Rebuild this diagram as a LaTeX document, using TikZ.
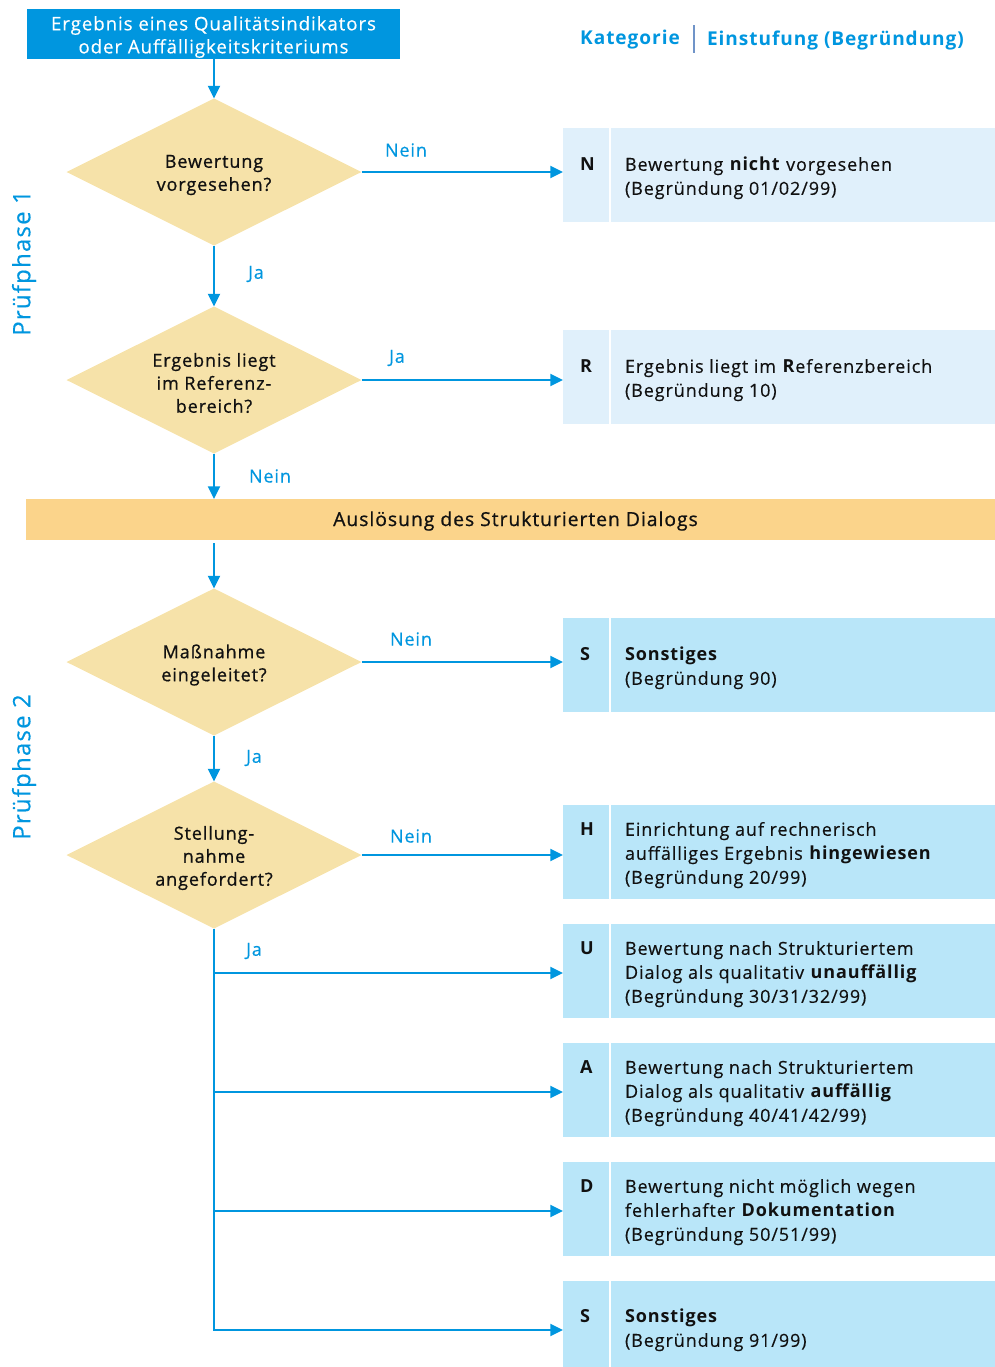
\documentclass[tikz,border=0pt]{standalone}
\usepackage{fontspec}
\setmainfont{Open Sans}[LetterSpace=5,UprightFeatures={FakeBold=0.3}]
\newfontfamily\medfont{Open Sans}[LetterSpace=5,FakeBold=0.8]
\usetikzlibrary{shapes.geometric,arrows.meta}
\definecolor{qblue}{HTML}{0096DF}
\definecolor{dfill}{HTML}{F6E2A9}
\definecolor{bfill}{HTML}{FBD48B}
\definecolor{lbox}{HTML}{E0F0FB}
\definecolor{mbox}{HTML}{B9E6F9}
\definecolor{sepc}{HTML}{7094C8}
\definecolor{ink}{HTML}{111111}
\newcommand{\boxtext}[3]{\begin{tabular}{@{}p{33.75pt}@{}l@{}}\textbf{#1} & #2\end{tabular}}
\begin{document}
\begin{tikzpicture}[x=0.75pt,y=-0.75pt,
  every node/.style={inner sep=0pt, outer sep=0pt},
  txt/.style={font=\fontsize{13.5pt}{18pt}\selectfont, text=ink},
  dec/.style={diamond, aspect=2, fill=dfill, minimum width=221.25pt, minimum height=110.25pt, inner sep=0pt},
  dectext/.style={align=center, font=\medfont\fontsize{13.5pt}{17.25pt}\selectfont, text=ink},
  catbox/.style={fill=#1, minimum width=324pt, minimum height=70.5pt, anchor=north west},
  arr/.style={draw=qblue, line width=1.5pt, -{Triangle[length=9.5pt,width=9pt]}},
  lbl/.style={text=qblue, font=\fontsize{13.5pt}{18pt}\selectfont},
  hdr/.style={text=qblue, font=\bfseries\fontsize{14.3pt}{18pt}\selectfont},
  phase/.style={text=qblue, rotate=90, font=\fontsize{18pt}{22pt}\selectfont},
  divider/.style={draw=white, line width=1.5pt}
  ]
\useasboundingbox (0,0) rectangle (995,1367);
\clip (0,0) rectangle (995,1367);

% start box
\node[fill=qblue, minimum width=279.75pt, minimum height=37.5pt] (start) at (213.5,34) {};
\node[align=center, text=white, font=\fontsize{14pt}{17.25pt}\selectfont] (startt) at (213.5,37)
  {Ergebnis eines Qualitätsindikators\\oder Auffälligkeitskriteriums};

% header
\node[hdr] (kat) at (630,40) {Kategorie};
\node[hdr] (einst) at (835.5,40) {Einstufung (Begründung)};
\draw[sepc, line width=1.2pt] (694,25) -- (694,53);

% phase labels
\node[phase] (p1) at (24,263) {Prüfphase 1};
\node[phase] (p2) at (24,767) {Prüfphase 2};

% diamonds
\node[dec] (d1) at (214,172) {};
\node[dec] (d2) at (214,380) {};
\node[dec] (d3) at (214,662) {};
\node[dec] (d4) at (214,855) {};
\node[dectext] (d1t) at (214,175) {Bewertung\\vorgesehen?};
\node[dectext] (d2t) at (214,383) {Ergebnis liegt\\im Referenz-\\bereich?};
\node[dectext] (d3t) at (214,665) {Maßnahme\\eingeleitet?};
\node[dectext] (d4t) at (214,858) {Stellung-\\nahme\\angefordert?};

% banner
\node[fill=bfill, minimum width=726.75pt, minimum height=30.75pt] (dialog) at (510.5,519.5) {};
\node[font=\medfont\fontsize{14.5pt}{18pt}\selectfont, text=ink] (dialogt) at (515.5,521)
  {Auslösung des Strukturierten Dialogs};

% category boxes
\node[catbox=lbox] (N) at (563,128) {};
\node[catbox=lbox] (R) at (563,330) {};
\node[catbox=mbox] (S1) at (563,618) {};
\node[catbox=mbox] (H) at (563,805) {};
\node[catbox=mbox] (U) at (563,924) {};
\node[catbox=mbox] (A) at (563,1043) {};
\node[catbox=mbox] (D) at (563,1162) {};
\node[catbox=mbox] (S2) at (563,1281) {};
\foreach \b in {N,R,S1,H,U,A,D,S2}
  \draw[divider] ([xshift=35.25pt]\b.north west) -- ([xshift=35.25pt]\b.south west);

% box texts
\node[txt, anchor=west] (Nt) at (580,178) {\boxtext{N}{Bewertung \textbf{nicht} vorgesehen\\ & (Begründung 01/02/99)}{}};
\node[txt, anchor=west] (Rt) at (580,380) {\boxtext{R}{Ergebnis liegt im \textbf{R}eferenzbereich\\ & (Begründung 10)}{}};
\node[txt, anchor=west] (S1t) at (580,668) {\boxtext{S}{\textbf{Sonstiges}\\ & (Begründung 90)}{}};
\node[txt, anchor=west] (Ht) at (580,855) {\boxtext{H}{Einrichtung auf rechnerisch\\ & auffälliges Ergebnis \textbf{hingewiesen}\\ & (Begründung 20/99)}{}};
\node[txt, anchor=west] (Ut) at (580,974) {\boxtext{U}{Bewertung nach Strukturiertem\\ & Dialog als qualitativ \textbf{unauffällig}\\ & (Begründung 30/31/32/99)}{}};
\node[txt, anchor=west] (At) at (580,1093) {\boxtext{A}{Bewertung nach Strukturiertem\\ & Dialog als qualitativ \textbf{auffällig}\\ & (Begründung 40/41/42/99)}{}};
\node[txt, anchor=west] (Dt) at (580,1212) {\boxtext{D}{Bewertung nicht möglich wegen\\ & fehlerhafter \textbf{Dokumentation}\\ & (Begründung 50/51/99)}{}};
\node[txt, anchor=west] (S2t) at (580,1330) {\boxtext{S}{\textbf{Sonstiges}\\ & (Begründung 91/99)}{}};

% connectors
\draw[arr] (start.south -| d1.north) -- (d1.north);
\draw[arr] (d1.east) -- (d1.east -| N.west);
\draw[arr] (d1.south) -- (d2.north);
\draw[arr] (d2.east) -- (d2.east -| R.west);
\draw[arr] (d2.south) -- (d2.south |- dialog.north);
\draw[arr] ([yshift=-2.5pt]dialog.south -| d3.north) -- (d3.north);
\draw[arr] (d3.east) -- (d3.east -| S1.west);
\draw[arr] (d3.south) -- (d4.north);
\draw[arr] (d4.east) -- (d4.east -| H.west);
\draw[arr] (d4.south) |- ([yshift=-1.5pt]S2.west);
\foreach \b in {U,A,D}
  \draw[arr] ([yshift=-1.5pt]d4.south |- \b.west) -- ([yshift=-1.5pt]\b.west);

% labels
\node[lbl] (l1) at (406,150) {Nein};
\node[lbl] (l2) at (256,274) {Ja};
\node[lbl] (l3) at (397,358) {Ja};
\node[lbl] (l4) at (270,476) {Nein};
\node[lbl] (l5) at (411,639) {Nein};
\node[lbl] (l6) at (254,758) {Ja};
\node[lbl] (l7) at (411,836) {Nein};
\node[lbl] (l8) at (254,951) {Ja};
\end{tikzpicture}
\end{document}
